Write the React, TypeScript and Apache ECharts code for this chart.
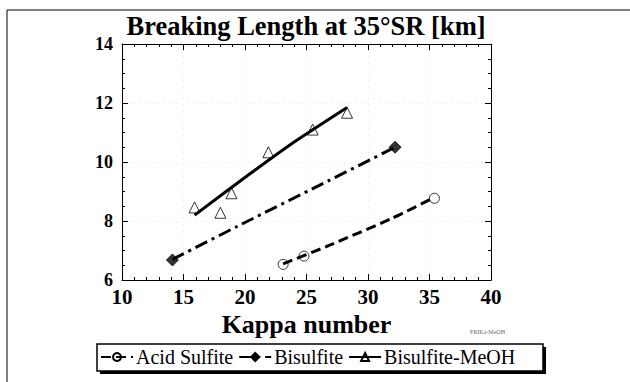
import React, { useEffect, useRef } from "react";
import * as echarts from "echarts";

const titleText = "Breaking Length at 35°SR [km]";
const xName = "Kappa number";
const seriesNames = ["Acid Sulfite", "Bisulfite", "Bisulfite-MeOH"];

// measured points [kappa, breaking length]
const acidPts = [[23.1, 6.53], [24.8, 6.81], [35.4, 8.77]];
const bisPts = [[14.1, 6.68], [32.2, 10.5]];
const meohPts = [[15.9, 8.46], [18.0, 8.28], [18.9, 8.94], [21.9, 10.33], [25.5, 11.1], [28.3, 11.67]];

// fitted curves
const acidFit = [[23.1, 6.55], [26.6, 7.13], [32.0, 8.1], [35.4, 8.8]];
const bisFit = [[14.1, 6.7], [20.0, 7.95], [26.0, 9.2], [32.2, 10.5]];
const meohFit = [[15.9, 8.2], [20.4, 9.6], [24.0, 10.68], [28.3, 11.85]];

const xMin = 10, xMax = 40, xStep = 5;
const yMin = 6, yMax = 14, yStep = 2;

const FONT = "'Liberation Serif', serif";

export default function App() {
  const ref = useRef<HTMLDivElement>(null);
  useEffect(() => {
    if (!ref.current) return;
    const chart = echarts.init(ref.current, null, { renderer: "svg" });
    const hollow = { color: "rgba(255,255,255,0)", borderColor: "#000", borderWidth: 1 };
    const solid = { color: "#000", borderColor: "#000", borderWidth: 1 };
    const gridLine = { show: true, lineStyle: { color: "#e2e2e2", type: [1, 5], width: 1 } };
    const baseX = {
      type: "value", min: xMin, max: xMax, interval: xStep,
      axisLine: { lineStyle: { color: "#000", width: 1 } },
      axisTick: { inside: true, length: 6, lineStyle: { color: "#000" } },
      minorTick: { show: true, splitNumber: 5, length: 3, lineStyle: { color: "#000" } },
    };
    const baseY = {
      type: "value", min: yMin, max: yMax, interval: yStep,
      axisLine: { show: true, lineStyle: { color: "#000", width: 1 } },
      axisTick: { inside: true, length: 6, lineStyle: { color: "#000" } },
      minorTick: { show: true, splitNumber: 4, length: 3, lineStyle: { color: "#000" } },
    };
    const fitLine = (name: string, data: number[][], type: any, symbol: string, size: number, item: any) => ({
      type: "line", name, data, smooth: 0.2, showSymbol: false, symbol, symbolSize: size,
      itemStyle: item, lineStyle: { color: "#000", width: 3, type }, z: 4, silent: true,
    });
    const pts = (name: string, data: number[][], symbol: string, size: number, item: any) => ({
      type: "scatter", name, data, symbol, symbolSize: size, itemStyle: item, z: 3,
    });
    const tickLabel = (size: number, margin: number) => ({
      margin, color: "#000", fontFamily: FONT, fontWeight: "bold", fontSize: size,
      formatter: "{t|{value}}",
      rich: { t: { fontFamily: FONT, fontWeight: "bold", fontSize: size, color: "#000" } },
    });
    chart.setOption({
      animation: false,
      backgroundColor: "#fff",
      textStyle: { fontFamily: FONT },
      title: {
        text: titleText, left: 306, top: 12, textAlign: "center", padding: 0,
        textStyle: { fontFamily: FONT, fontWeight: "bold", fontSize: 26.5, color: "#000" },
      },
      grid: { left: 122, right: 139, top: 44, bottom: 102 },
      xAxis: [
        {
          ...baseX, position: "bottom",
          axisLabel: tickLabel(21, 6),
          splitLine: gridLine,
          name: xName, nameLocation: "middle", nameGap: 24,
          nameTextStyle: { fontFamily: FONT, fontWeight: "bold", fontSize: 26, color: "#000" },
        },
        { ...baseX, position: "top", axisLabel: { show: false }, splitLine: { show: false } },
      ],
      yAxis: [
        {
          ...baseY, position: "left",
          axisLabel: tickLabel(18, 9),
          splitLine: gridLine,
        },
        { ...baseY, position: "right", axisLabel: { show: false }, splitLine: { show: false } },
      ],
      legend: {
        data: seriesNames, left: 100, top: 347, padding: 0, itemGap: 5,
        itemWidth: 32, itemHeight: 10, z: 10,
        textStyle: { fontFamily: FONT, fontSize: 20, color: "#000", padding: [0, 0, 0, -2] },
      },
      graphic: [
        { type: "line", shape: { x1: 7, y1: 10, x2: 630, y2: 10 }, style: { stroke: "#000", lineWidth: 1 }, z: 1 },
        { type: "line", shape: { x1: 7, y1: 10, x2: 7, y2: 382 }, style: { stroke: "#000", lineWidth: 1 }, z: 1 },
        { type: "rect", shape: { x: 100, y: 347, width: 446, height: 27 }, style: { fill: "#000" }, z: 1 },
        { type: "rect", shape: { x: 97, y: 344, width: 446, height: 27 }, style: { fill: "#fff", stroke: "#000", lineWidth: 1.5 }, z: 2 },
        { type: "text", x: 470, y: 329, style: { text: "FRIKa-MeOH", fontSize: 6, fill: "#666", fontFamily: FONT }, z: 2 },
      ],
      series: [
        fitLine(seriesNames[0], acidFit, [10, 5], "circle", 9, hollow),
        fitLine(seriesNames[1], bisFit, [13, 5, 3, 5], "diamond", 12, solid),
        fitLine(seriesNames[2], meohFit, "solid", "triangle", 11, hollow),
        pts(seriesNames[0], acidPts, "circle", 10, hollow),
        pts(seriesNames[1], bisPts, "diamond", 12, solid),
        pts(seriesNames[2], meohPts, "triangle", 11, hollow),
      ],
    });
    return () => chart.dispose();
  }, []);
  return <div ref={ref} style={{ position: "fixed", left: 0, top: 0, width: 630, height: 382 }} />;
}
